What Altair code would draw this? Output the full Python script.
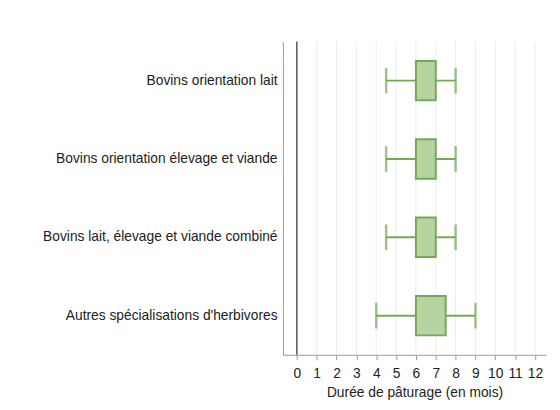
import altair as alt
import pandas as pd

categories = [
    "Bovins orientation lait",
    "Bovins orientation élevage et viande",
    "Bovins lait, élevage et viande combiné",
    "Autres spécialisations d'herbivores",
]
mins = [4.5, 4.5, 4.5, 4.0]
q1s = [6.0, 6.0, 6.0, 6.0]
q3s = [7.0, 7.0, 7.0, 7.5]
maxs = [8.0, 8.0, 8.0, 9.0]
tick_values = list(range(0, 13))
grid_values = list(range(1, 13))

df = pd.DataFrame({"cat": categories, "lo": mins, "q1": q1s, "q3": q3s, "hi": maxs})
zero_df = pd.DataFrame({"lo": [0]})
grid_df = pd.DataFrame({"lo": grid_values})

FONT = "Liberation Sans"
GREEN = "#74a955"
FILL = "#b6d4a2"

xscale = alt.Scale(domain=[-0.7, 12.56], nice=False, zero=False, padding=0)
yscale = alt.Scale(domain=categories, paddingInner=0, paddingOuter=0)

xaxis = alt.Axis(
    values=tick_values,
    format="d",
    grid=False,
    labelOverlap=False,
    domainColor="#999999",
    tickColor="#999999",
    tickSize=5,
    labelFont=FONT,
    labelFontSize=14,
    labelColor="#222222",
    titleFont=FONT,
    titleFontSize=14,
    titleFontWeight="normal",
    titleColor="#222222",
    labelPadding=7,
    titlePadding=5,
)
xtitle = "Durée de pâturage (en mois)"

def X(field):
    return alt.X(field, scale=xscale, axis=xaxis, title=xtitle)

yenc = alt.Y(
    "cat:N",
    scale=yscale,
    sort=categories,
    title=None,
    axis=alt.Axis(
        ticks=False,
        grid=False,
        domainColor="#999999",
        labelFont=FONT,
        labelFontSize=14,
        labelColor="#222222",
        labelPadding=6,
        labelLimit=300,
    ),
)

base = alt.Chart(df)

grid = alt.Chart(grid_df).mark_rule(color="#e6eef4", strokeWidth=1).encode(x=X("lo:Q"))
zero_line = alt.Chart(zero_df).mark_rule(color="#555555", strokeWidth=1.5).encode(x=X("lo:Q"))
whisker = base.mark_rule(color=GREEN, strokeWidth=2).encode(x=X("lo:Q"), x2="hi:Q", y=yenc)
caps_lo = base.mark_tick(color=GREEN, thickness=2.5, size=26, orient="vertical").encode(
    x=X("lo:Q"), y=yenc
)
caps_hi = base.mark_tick(color=GREEN, thickness=2.5, size=26, orient="vertical").encode(
    x=X("hi:Q"), y=yenc
)
box = base.mark_bar(size=40, fill=FILL, stroke=GREEN, strokeWidth=2).encode(
    x=X("q1:Q"), x2="q3:Q", y=yenc
)

chart = (
    alt.layer(grid, zero_line, whisker, caps_lo, caps_hi, box)
    .properties(
        width=267,
        height=318,
        autosize=alt.AutoSizeParams(type="none"),
        padding={"left": 279, "top": 31, "right": 6, "bottom": 50},
        background="white",
    )
    .configure_view(stroke=None)
)

chart.save("out.html", embed_options={"renderer": "svg", "actions": False})
